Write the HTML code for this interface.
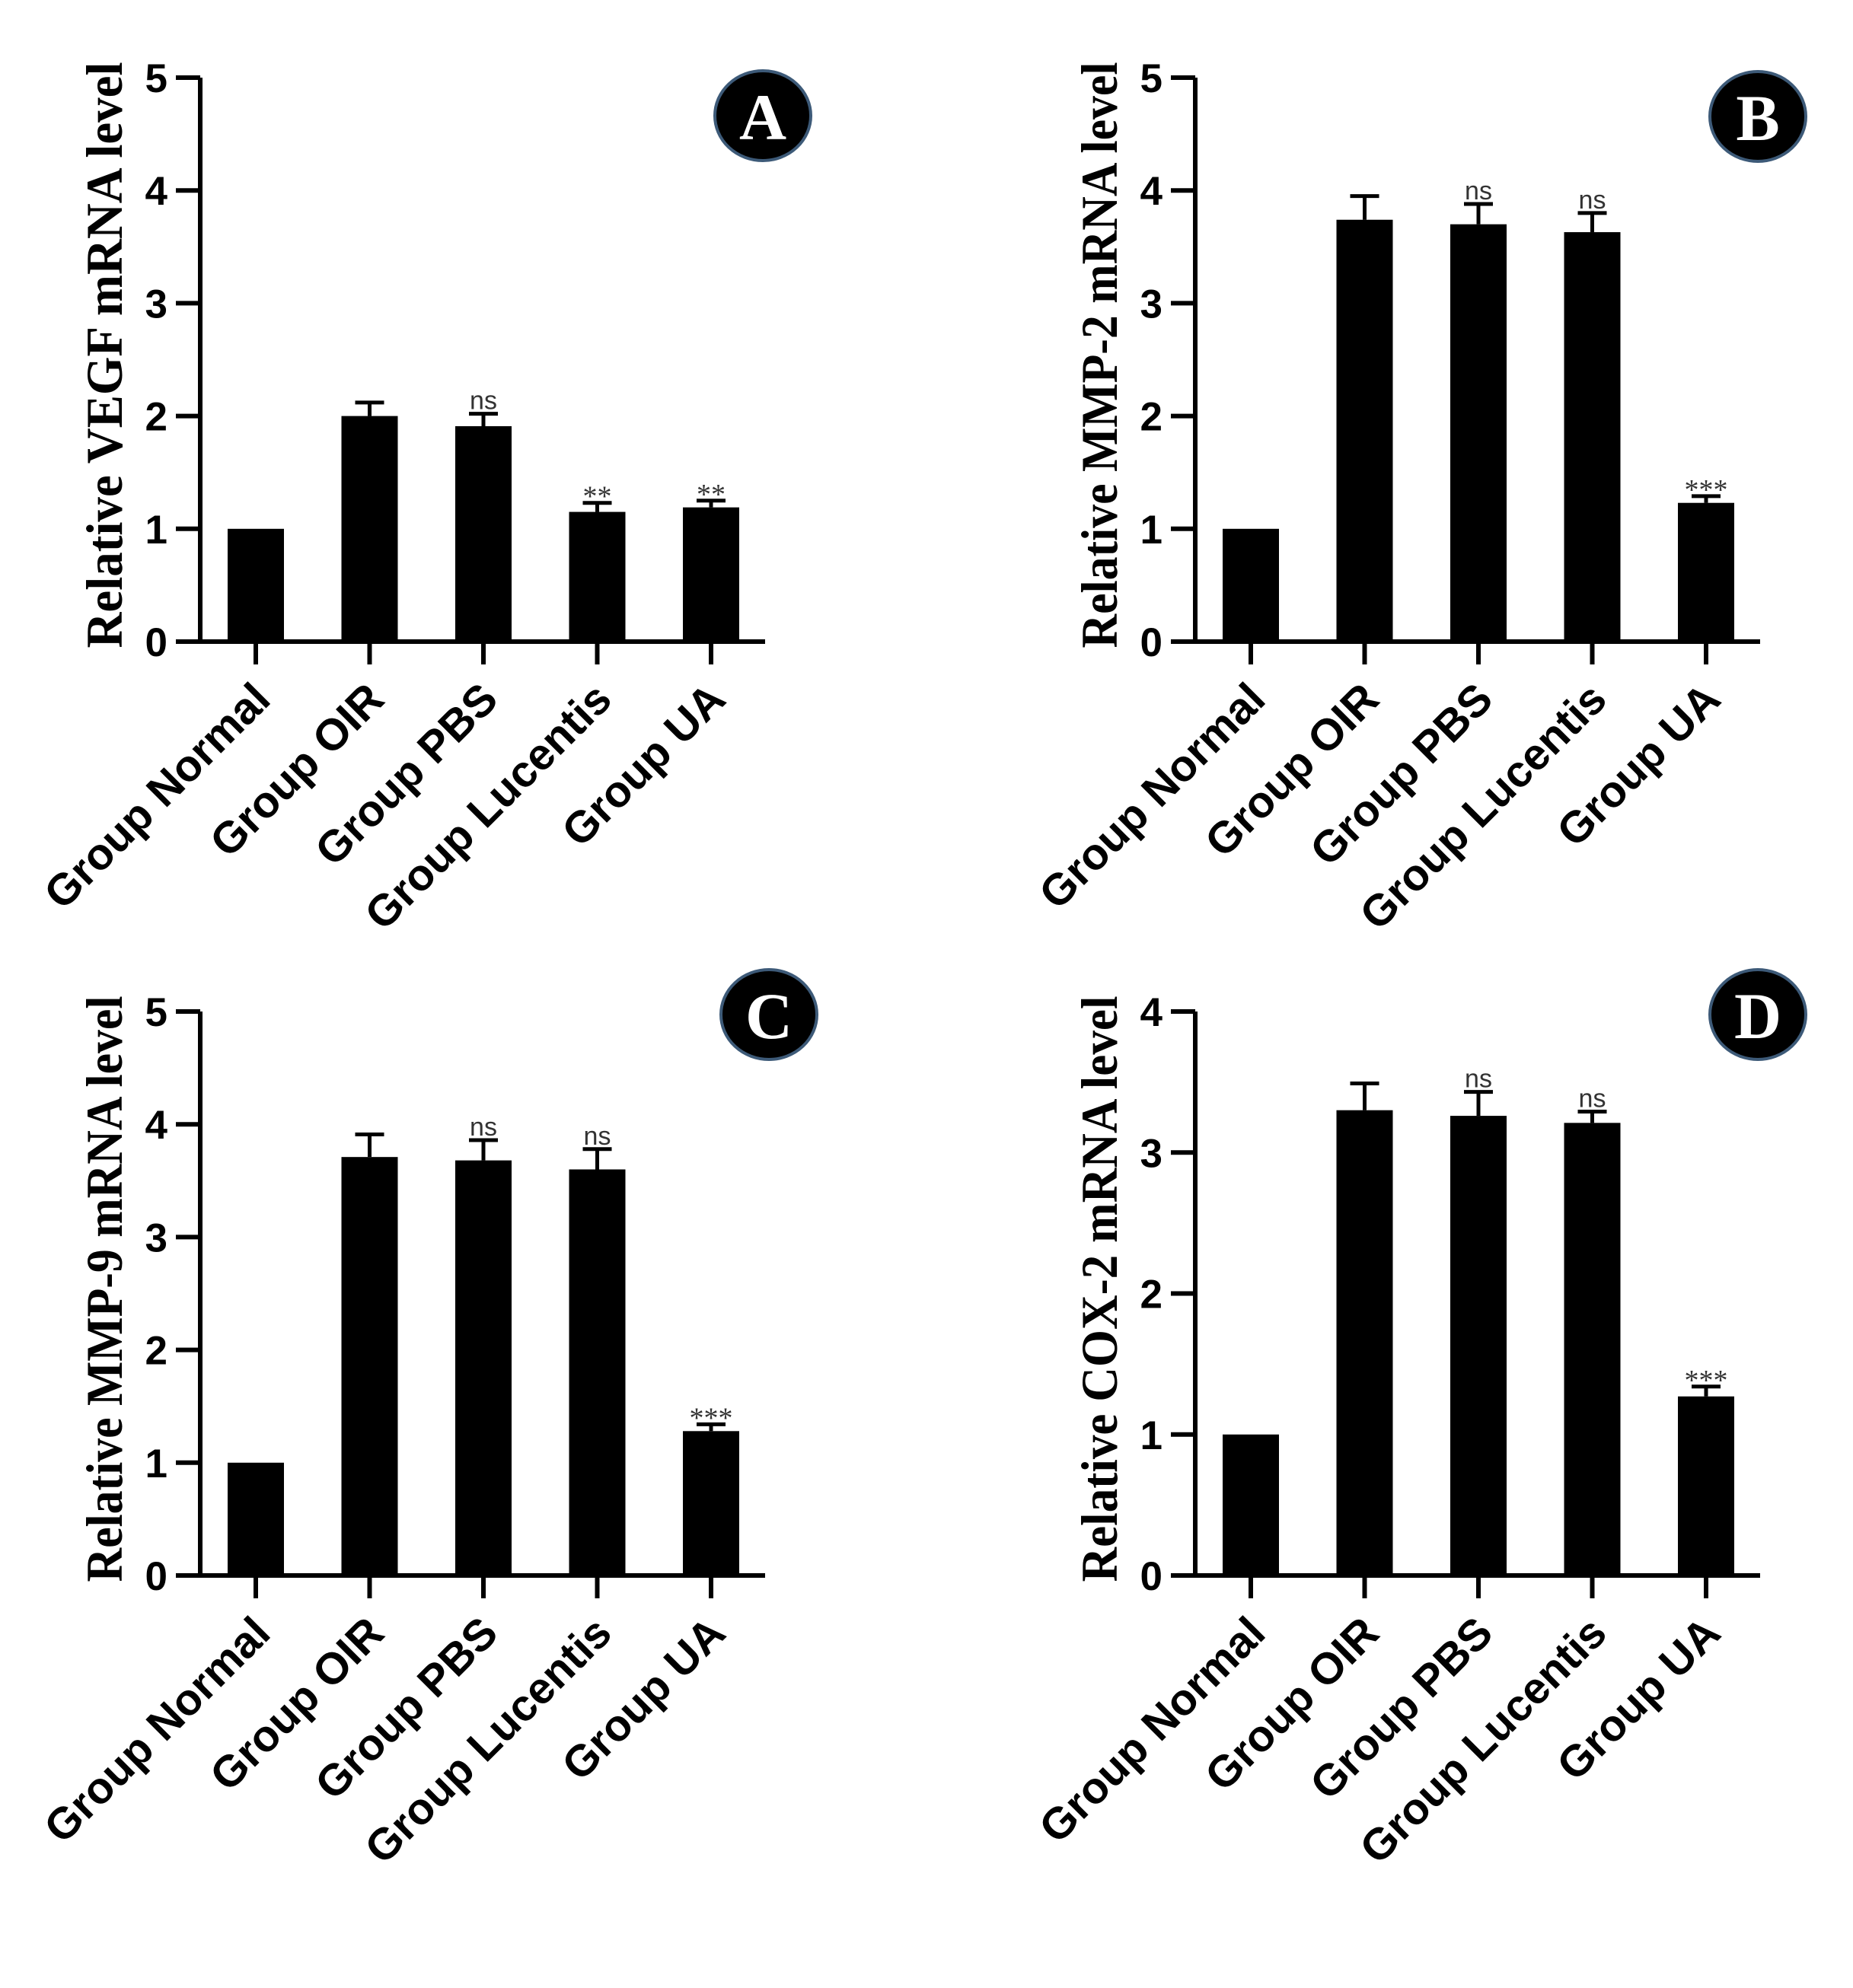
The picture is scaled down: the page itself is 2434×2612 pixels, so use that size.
<!DOCTYPE html>
<html><head><meta charset="utf-8"><style>
html,body{margin:0;padding:0;background:#fff;}
svg{display:block;}
</style></head><body>
<svg id="fig" width="2434" height="2612" viewBox="0 0 2434 2612" xmlns="http://www.w3.org/2000/svg"></svg>
<script>
const categories = ["Group Normal","Group OIR","Group PBS","Group Lucentis","Group UA"];
const valuesA = [1, 2.0, 1.91, 1.15, 1.19];
const errorsA = [0, 0.12, 0.11, 0.08, 0.06];
const marksA = ["", "", "ns", "**", "**"];
const valuesB = [1, 3.74, 3.70, 3.63, 1.23];
const errorsB = [0, 0.21, 0.18, 0.17, 0.06];
const marksB = ["", "", "ns", "ns", "***"];
const valuesC = [1, 3.71, 3.68, 3.60, 1.28];
const errorsC = [0, 0.20, 0.18, 0.18, 0.06];
const marksC = ["", "", "ns", "ns", "***"];
const valuesD = [1, 3.30, 3.26, 3.21, 1.27];
const errorsD = [0, 0.19, 0.17, 0.08, 0.07];
const marksD = ["", "", "ns", "ns", "***"];
const ticks5 = [0,1,2,3,4,5];
const ticks4 = [0,1,2,3,4];
const titles = ["Relative VEGF mRNA level","Relative MMP-2 mRNA level","Relative MMP-9 mRNA level","Relative COX-2 mRNA level"];
const letters = ["A","B","C","D"];

const NS="http://www.w3.org/2000/svg";
const svg=document.getElementById('fig');
function mk(tag,attrs,parent){const e=document.createElementNS(NS,tag);for(const k in attrs)e.setAttribute(k,attrs[k]);(parent||svg).appendChild(e);return e;}

function panel(idx,dx,dy,vals,errs,marks,ticks,ymax,circ){
  const g=mk('g',{transform:`translate(${dx},${dy})`});
  
  
  const x0=263, y0=843, ytop=102, xEnd=1005;
  const ys=v=>y0-(y0-ytop)*v/ymax;
  const xc=i=>336+149.5*i;
  vals.forEach((v,i)=>{
    const r=mk('rect',{x:xc(i)-37,y:ys(v),width:74,height:y0-ys(v),fill:'#000'},g);
    
    
    if(errs[i]>0){
      const top=ys(v+errs[i]);
      const e=mk('path',{d:`M${xc(i)} ${ys(v)} V${top} M${xc(i)-19} ${top} H${xc(i)+19}`,stroke:'#000','stroke-width':5,fill:'none'},g);
      
      
    }
    if(marks[i]){
      const top=ys(v+errs[i]);
      const isNs=marks[i]==='ns';
      const t=mk('text',{x:xc(i),y:isNs?top-6:top+4,'text-anchor':'middle','font-family':isNs?'Liberation Sans, sans-serif':'Liberation Serif, serif','font-size':isNs?34:38,fill:'#333'},g);
      t.textContent=marks[i];
      
      
    }
  });
  const ax=mk('path',{d:`M${x0} ${ytop} V${y0} M231 ${y0} H${xEnd}`,stroke:'#000','stroke-width':6,fill:'none'},g);
  
  
  ticks.forEach(t=>{
    mk('line',{x1:231,x2:x0,y1:ys(t),y2:ys(t),stroke:'#000','stroke-width':6},g);
    const tl=mk('text',{x:220,y:ys(t)+19,'text-anchor':'end','font-family':'Liberation Sans, sans-serif','font-weight':'bold','font-size':53},g);
    tl.textContent=t;
    
    
  });
  categories.forEach((c,i)=>{
    mk('line',{x1:xc(i),x2:xc(i),y1:y0,y2:y0+30,stroke:'#000','stroke-width':6},g);
    const ex=xc(i)+22, ey=922;
    const t=mk('text',{x:ex,y:ey,'text-anchor':'end','font-family':'Liberation Sans, sans-serif','font-weight':'bold','font-size':58,transform:`rotate(-45 ${ex} ${ey})`},g);
    t.textContent=c;
    
    
  });
  const ti=mk('text',{x:0,y:0,'text-anchor':'middle','font-family':'Liberation Serif, serif','font-weight':'bold','font-size':68,textLength:770,lengthAdjust:'spacingAndGlyphs',transform:`translate(160 ${(ytop+y0)/2-6}) rotate(-90)`},g);
  ti.textContent=titles[idx];
  
  
  const cg=mk('g',{},svg);
  
  
  mk('ellipse',{cx:circ[0],cy:circ[1],rx:63,ry:59,fill:'#000',stroke:'#3d5a78','stroke-width':4},cg);
  const lt=mk('text',{x:circ[0],y:circ[1]+31,'text-anchor':'middle','font-family':'Liberation Serif, serif','font-weight':'bold','font-size':86,fill:'#fff'},cg);
  lt.textContent=letters[idx];
}
panel(0,0,0,valuesA,errorsA,marksA,ticks5,5,[1002,152]);
panel(1,1307,0,valuesB,errorsB,marksB,ticks5,5,[2309,153]);
panel(2,0,1227,valuesC,errorsC,marksC,ticks5,5,[1010,1333]);
panel(3,1307,1227,valuesD,errorsD,marksD,ticks4,4,[2309,1333]);
</script>
</body></html>
